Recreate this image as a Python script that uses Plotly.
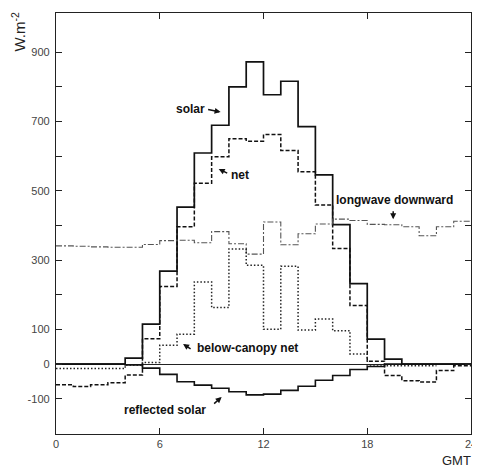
import plotly.graph_objects as go

hours_tick = [0, 6, 12, 18, 24]
y_ticks = [-100, 0, 100, 200, 300, 400, 500, 600, 700, 800, 900]
y_ticktext = ["-100", "0", "100", "", "300", "", "500", "", "700", "", "900"]

solar = [0, 0, 0, 0, 17, 115, 268, 453, 609, 689, 800, 872, 777, 816, 685, 546, 402, 232, 72, 14, 0, 0, 0, 0]
net = [-60, -65, -60, -54, -32, 73, 224, 396, 522, 598, 650, 643, 662, 616, 555, 459, 333, 169, 8, -33, -48, -52, -19, -5]
longwave = [341, 340, 338, 337, 337, 345, 356, 357, 350, 382, 347, 317, 410, 344, 376, 404, 418, 414, 403, 402, 396, 370, 396, 412]
below_canopy = [-13, -13, -13, -13, -3, 4, 54, 86, 237, 163, 332, 285, 100, 282, 98, 130, 96, 29, -3, -5, -5, -5, None, None]
reflected = [0, 0, 0, 0, -3, -12, -30, -51, -61, -70, -80, -89, -87, -76, -64, -47, -33, -16, -7, 0, 0, 0, 0, 0]


def step(vals):
    xs, ys = [], []
    for i, v in enumerate(vals):
        if v is None:
            break
        xs.append(i)
        ys.append(v)
    xs.append(len(xs))
    ys.append(ys[-1])
    return xs, ys


fig = go.Figure()

series = [
    ("solar", solar, dict(color="#111", width=1.7, dash="solid")),
    ("net", net, dict(color="#111", width=1.5, dash="4px,2px")),
    ("longwave downward", longwave, dict(color="#555", width=1.1, dash="6px,2px,2px,2px")),
    ("below-canopy net", below_canopy, dict(color="#222", width=1.5, dash="1.5px,2px")),
    ("reflected solar", reflected, dict(color="#111", width=1.6, dash="solid")),
]
for name, vals, line in series:
    xs, ys = step(vals)
    fig.add_trace(go.Scatter(x=xs, y=ys, mode="lines", name=name,
                             line=dict(shape="hv", **line), showlegend=False))

lab_font = dict(family="Liberation Sans, Arial, sans-serif", size=12, color="#111")
labels = [
    ("<b>solar</b>", 7.75, 736),
    ("<b>net</b>", 10.66, 545),
    ("<b>longwave downward</b>", 19.56, 473),
    ("<b>below-canopy net</b>", 11.06, 46),
    ("<b>reflected solar</b>", 6.33, -133),
]
for t, x, y in labels:
    fig.add_annotation(x=x, y=y, text=t, showarrow=False, font=lab_font,
                       xanchor="center", yanchor="middle")

arrows = [
    (9.52, 727, -14, -3),
    (9.41, 563, 10, 5),
    (19.5, 418, 0, -10),
    (7.35, 58, 9, 6),
    (9.58, -95, -9, 8),
]
for x, y, ax, ay in arrows:
    fig.add_annotation(x=x, y=y, ax=ax, ay=ay, text=" ", showarrow=True,
                       arrowhead=2, arrowsize=0.8, arrowwidth=1.5, arrowcolor="#111",
                       font=dict(size=1))

fig.add_annotation(xref="paper", yref="paper", x=-0.09, y=0.955,
                   text="W.m<sup>-2</sup>", textangle=-90, showarrow=False,
                   font=dict(family="Liberation Sans, Arial, sans-serif", size=15, color="#222"),
                   xanchor="center", yanchor="middle")
fig.add_annotation(xref="paper", yref="paper", x=0.965, y=-0.064,
                   text="GMT", showarrow=False,
                   font=dict(family="Liberation Sans, Arial, sans-serif", size=13, color="#222"),
                   xanchor="center", yanchor="middle")

axis_common = dict(showline=True, linecolor="#222", linewidth=1.3, mirror="ticks",
                   ticks="inside", ticklen=6, tickwidth=1, tickcolor="#222",
                   showgrid=False,
                   tickfont=dict(family="Liberation Sans, Arial, sans-serif", size=11, color="#444"))

fig.update_xaxes(range=[0, 24], tickvals=hours_tick, ticktext=[str(h) for h in hours_tick],
                 zeroline=False, ticklabeloverflow="allow", **axis_common)
fig.update_yaxes(range=[-202, 1013], tickvals=y_ticks, ticktext=y_ticktext,
                 zeroline=True, zerolinecolor="#222", zerolinewidth=1,
                 ticklabelstandoff=3, **axis_common)

# the page body adds an 8px margin, so the figure is sized to fill the window from there
fig.update_layout(width=472, height=461, margin=dict(l=48, r=3, t=5, b=35),
                  paper_bgcolor="white", plot_bgcolor="white")

fig.write_html("out.html")
